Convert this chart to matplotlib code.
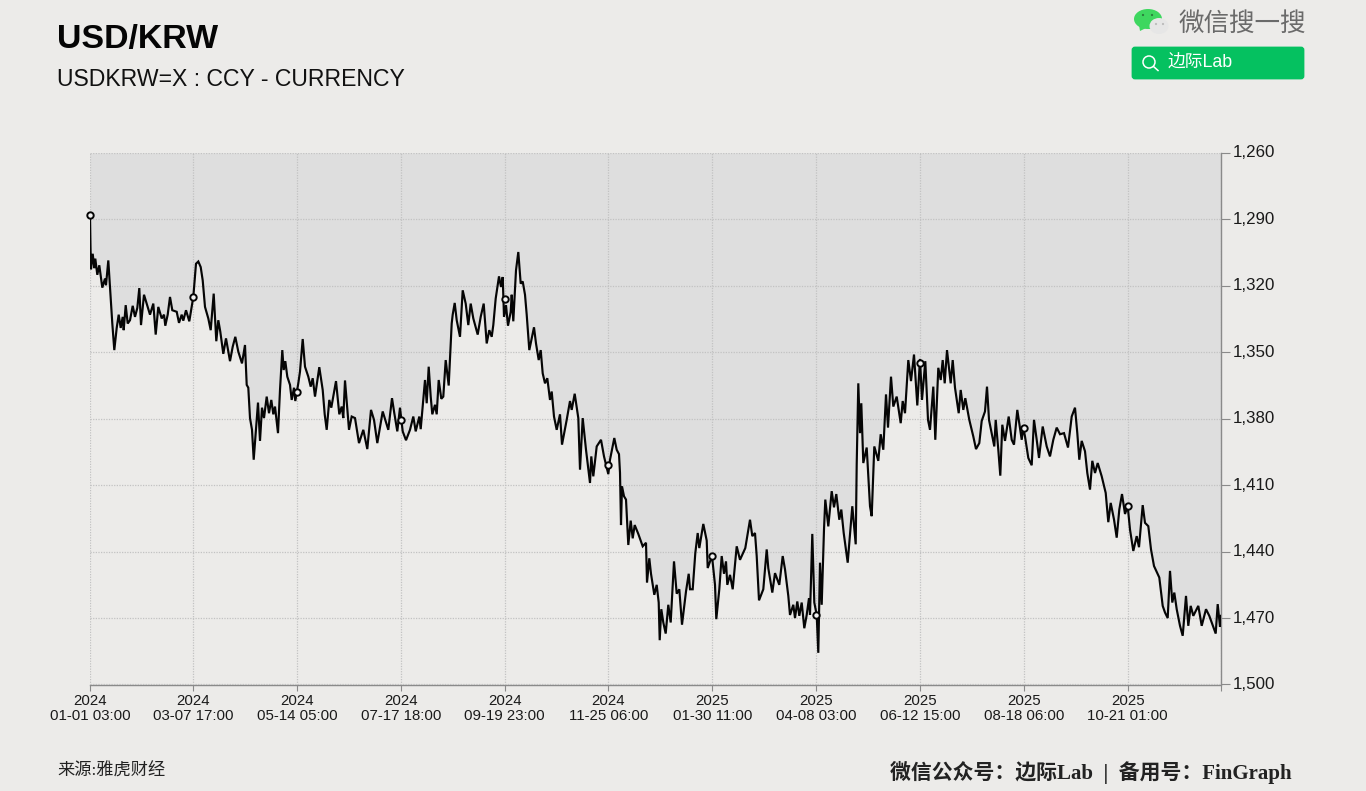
import matplotlib
matplotlib.use("Agg")
import matplotlib.pyplot as plt
from matplotlib.patches import Ellipse, FancyBboxPatch, Circle, Polygon

plt.rcParams['font.family'] = ['Liberation Sans', 'Noto Sans CJK SC', 'DejaVu Sans']

title = "USD/KRW"
subtitle = "USDKRW=X : CCY - CURRENCY"
source = "来源:雅虎财经"
credit = "微信公众号：边际Lab  |  备用号：FinGraph"

sessions = [0,0.5,1,2.7,4.3,5.3,7.3,9.3,12.3,15,16,18.3,20,22.3,24.3,26.7,28.7,30.7,32.7,33.7,35.7,37.7,40,42.7,45,47.3,49.3,51,54,56.7,60,63.3,65.7,68.3,71.7,74,75.3,77.7,80,82.3,86.7,89,91.7,93.3,96,99.3,103.3,106,108.3,110.7,112.7,115,118.3,120.7,123.7,126.3,128.3,130.3,133.3,136,140,142.7,145.3,148.3,152,155,156.7,158.3,160,162,163.7,165.7,168,170,172,174,176.7,179,181.3,183.3,185,188,190,192.3,193.7,195.3,197.3,200,201.7,204,205.3,208.3,
210,212.7,215,218.3,220.7,222.7,225,229.3,232.7,234.7,236.7,239.3,241.3,246,249.3,251.7,253.3,255,259,261.7,265,269,273.3,277.3,281,284,287.3,292.7,298.3,302,304.3,307.3,310,312.7,316,320,323.3,325.7,329.3,330.7,335,336.7,338.7,340.7,342.3,345,346.7,348.7,351.3,353.3,355.7,358.7,361.7,362.7,364.7,366.7,370,372.7,375.7,378.3,380.7,383.3,387.7,390.7,393.7,396.7,399.3,401.7,403.3,405.7,409,411,412.7,414,416,418,420.7,421.7,423.3,426,428.3,430.7,432.7,435,436.7,439.3,441.7,444,446,448.7,450.7,452.7,455,457.3,460,461.7,464,466.7,470,472,476.7,480,481.7,484.7,488.3,490,492.7,496,500,501.3,503.3,506.7,511,514,518.3,520,524.3,526.7,529,
530,531,532,534,536,538.3,540.7,542.7,544.7,548.3,552.7,556,557,559.3,561,564.3,566.7,568.7,569.7,571.3,573.3,575.7,578.3,580.7,584,586.7,589.3,592,596,598.7,600,602.7,605.3,607.7,609.3,613.3,616.7,617.7,622,625,626.3,629.3,631.7,634,636,637.3,640,642.7,646.7,650,655.3,660,662.3,665,666.7,669,673.3,676.7,678.3,682.3,685,689.3,692.7,695,698.3,700,703.3,705,707.3,709.3,711.7,714.3,716.7,719,720,722.3,724.3,726.7,728.3,730,731.7,734,735.3,738.3,741.7,744,746.3,749.3,751.3,753.7,757.7,
762.3,765.7,766.7,768.3,770,771.3,773.3,776.7,780,781.7,784.3,788.3,790.7,793.3,796,798,801,803.3,806.7,810.7,812.7,815,818.3,821,824,827.3,830,832,835.3,838,840,843.3,845.3,848.3,850.7,852.7,854.7,857,860.7,862.7,865,868.7,870.7,873.3,875.3,879.3,883.3,886,889.3,891.7,895,897,899,901.7,904.3,905.7,908.3,910.3,912.3,915,918.7,921.7,924,927.3,931.7,933.3,935,938.3,941.7,944,946.7,949,952.7,956.7,960,963.3,966.7,970,974,978,981.7,985,987.3,989.3,991.7,995,997.3,1000,1002.3,1005,1007.7,1011.7,1015.7,1018.3,1020.7,1024,1026.7,1029.3,1032,1035,1037.7,1040,1043.3,1046.7,1049,1052.7,1055,1058.3,1061,1064,1069.3,1072.7,1075,1077.7,1080,1082.3,1084.3,1086.7,1090,1092.7,1096,1098.3,1100.7,1103.3,1108.3,1111.7,1116,1119.3,1125.7,1127.7,1130,1131]

rates = [1288,1302.5,1312.5,1305.5,1312,1307.7,1315,1310.7,1320.8,1316.7,1319.7,1308.5,1320.5,1337,1349,1339,1333,1339,1334,1340,1328.7,1337,1335.5,1329,1334,1330,1321,1337.7,1324,1328,1333,1328,1342,1329.5,1334.7,1333,1338,1333,1325,1331,1331.7,1336.7,1333,1335.7,1331,1336,1325,1310,1309,1311.5,1317.5,1329.5,1334.7,1340,1323.5,1345,1335.5,1340.7,1350.7,1343.7,1354,1347.5,1343,1349.7,1355,1346.7,1364.7,1366,1379.7,1385,1398.5,1386.5,1372.7,1390,1375,1379.7,1370,1377.5,1371.5,1378,1374.5,1386.5,1367,1349,1358,1354,1361,1364.7,1371.5,1366,1372,1364,
1358.7,1344,1356.5,1361,1365.5,1361.7,1370,1356.7,1367,1378,1385,1371.5,1375,1363,1378,1374.5,1379.7,1362.7,1385,1379,1379.7,1391,1385,1393.7,1376,1380.5,1391,1376.7,1385,1370.7,1377.5,1385.7,1375,1385.7,1389.7,1385,1379,1385.7,1379,1384.7,1362.5,1373,1356.5,1370,1378,1373.7,1378,1362.5,1371,1370,1353.5,1365,1337,1333,1327.7,1335.5,1343,1322,1328,1337.7,1328,1334.7,1342,1334,1328,1346,1340,1343,1337.7,1325.7,1315.7,1320.5,1316,1334,1328.7,1338,1331.7,1324,1336,1313,1304.7,1319,1318,1324,1333,1349,1343.7,1338.7,1346,1353.5,1349,1359.5,1364,1361.7,1371.5,1367.7,1379,1385,1378,1391.7,1380.5,1372,1376,1368.7,1379.7,1403,1379.7,1394,1409,1397,1406,1392.5,1389.5,1397,1405,1398.5,1388.7,1394,1396,
1404.4,1428,1410.5,1415,1416.5,1437,1426,1434,1428,1432,1437.6,1436,1454,1443,1450,1459.5,1455,1463,1480,1466,1472,1477,1464,1472,1444.4,1459,1457,1473,1458,1450,1457,1457,1440.7,1431.6,1438.4,1427.5,1435,1447.4,1442,1455,1470.5,1457,1442,1450,1444.4,1455,1450.5,1457,1437.6,1443.7,1438.4,1425.6,1433,1431.6,1442,1462,1457,1439,1447.5,1458.5,1449.7,1455,1442,1448,1460,1468.6,1464,1470,1462.5,1469,1463,1474.6,1468.6,1461,1468.6,1432,1463,1468.6,1485.7,1445,1464,1430,1416.5,1428.6,1412.7,1420,1414,1425.6,1421,1431.6,1445,
1419.5,1436.7,1400.7,1364,1386.5,1373,1400,1393,1419.5,1424,1392.5,1399,1387,1394,1369,1384,1361,1374.5,1370,1382,1372,1377.5,1353.5,1363,1351,1374,1353,1371.5,1354,1380.5,1385,1365.5,1389.5,1357,1362.5,1353.5,1364,1349,1364,1353.5,1366,1377.5,1367,1376,1370.7,1380.5,1388,1393.7,1391,1381,1376.7,1365.5,1380.5,1386.5,1392.5,1380.5,1394,1405.7,1382.7,1390,1379,1389.5,1391.7,1376,1389.5,1384,1388,1397.7,1401,1380.5,1389.5,1397.7,1383.5,1392.5,1397,1389.5,1384,1387,1386.5,1393,1379,1375,1386.5,1398.5,1390,1394.7,1404.5,1412,1399,1404.5,1400,1406,1413.5,1426.7,1418,1425.5,1433.7,1421,1414,1423,1419.5,1430,1439.7,1433,1438,1419,1427,1428.5,1439,1446.5,1451.7,1464.5,1467.5,1470,1448.7,1463,1458.5,1466,1473.5,1478,1460,1473.5,1464.5,1469,1464.5,1473.5,1466,1469,1477,1463.7,1474,1469]

tick_sessions = [0,103.3,207,311,414.7,518.2,622.2,726.2,830,933.7,1037.6]
tick_rates = [1288,1325,1368,1380.5,1326,1400.7,1442,1468.5,1355,1384,1419.5]
tick_years = ["2024"]*6 + ["2025"]*5
tick_stamps = ["01-01 03:00","03-07 17:00","05-14 05:00","07-17 18:00","09-19 23:00","11-25 06:00",
               "01-30 11:00","04-08 03:00","06-12 15:00","08-18 06:00","10-21 01:00"]
y_levels = [1260,1290,1320,1350,1380,1410,1440,1470,1500]

W, H = 1366, 791
BG = "#ecebe9"
fig = plt.figure(figsize=(W/100, H/100), dpi=100, facecolor=BG)
L, R, T, B = 90, 1221, 153, 684.5
ax = fig.add_axes([L/W, 1-B/H, (R-L)/W, (B-T)/H], facecolor=BG)
ax.set_xlim(0, 1131)
ax.set_ylim(1500, 1260)

ax.fill_between(sessions, rates, 1260, color="#dedede", lw=0, zorder=1)
ax.grid(True, color="#c2c2c2", lw=0.9, ls=(0, (1, 1.1)), zorder=2)
ax.set_axisbelow(False)
ax.plot(sessions, rates, color="#050505", lw=1.55, zorder=3, solid_joinstyle="miter")
ax.plot(tick_sessions, tick_rates, ls="none", marker="o", ms=4.6, mfc="#f2f2f2", mec="#050505",
        mew=1.4, zorder=4, clip_on=False)

for s in ["top", "left"]:
    ax.spines[s].set_visible(False)
for s in ["right", "bottom"]:
    ax.spines[s].set_color("#8a8a8a")
    ax.spines[s].set_linewidth(1.0)
ax.yaxis.tick_right()
ax.set_yticks(y_levels)
ax.set_yticklabels([f"{v:,}" for v in y_levels], fontsize=12.2, color="#1a1a1a", va="center", y=0.002)
ax.set_xticks(tick_sessions + [1131])
ax.set_xticklabels([f"{y}\n{s}" for y, s in zip(tick_years, tick_stamps)] + [""],
                   fontsize=10.8, color="#1a1a1a", linespacing=1.08)
ax.tick_params(axis="y", length=6.5, width=0.8, color="#8a8a8a", pad=2)
ax.tick_params(axis="x", length=4, width=0.8, color="#8a8a8a", pad=3)

# page furniture in pixel coordinates
ov = fig.add_axes([0, 0, 1, 1], facecolor="none", zorder=5)
ov.set_xlim(0, W); ov.set_ylim(H, 0); ov.axis("off")
ov.text(57, 39.5, title, fontsize=24.4, fontweight="bold", color="#050505", va="center")
ov.text(57, 79, subtitle, fontsize=16.6, color="#111111", va="center")
ov.text(57, 772, source, fontsize=12.4, color="#222222", va="center",
        family=["Liberation Serif", "Noto Sans CJK SC"])
ov.text(1292, 772, credit, fontsize=15, fontweight="bold", color="#222222", va="center", ha="right",
        family=["Liberation Serif", "Noto Sans CJK SC"])

ov.add_patch(Ellipse((1148, 19), 28, 20, color="#3ed75f", lw=0))
ov.add_patch(Polygon([[1139, 25], [1140, 31], [1146, 28]], color="#3ed75f", lw=0))
ov.add_patch(Ellipse((1159, 26), 19, 16, color="#e6e6e6", lw=0))
for cx, cy, c in [(1143, 15, "#2a7a3c"), (1152, 15, "#2a7a3c"), (1156, 24, "#bbbbbb"), (1163, 24, "#bbbbbb")]:
    ov.add_patch(Circle((cx, cy), 1.1, color=c, lw=0))
ov.text(1179, 24, "微信搜一搜", fontsize=18.4, color="#6a6a6a", va="center", family="Noto Sans CJK SC")
ov.add_patch(FancyBboxPatch((1133, 48), 170, 30, boxstyle="round,pad=0,rounding_size=2",
                            fc="#05c160", ec="#05c160", lw=2))
ov.add_patch(Circle((1149, 62), 6, fc="none", ec="white", lw=1.1))
ov.plot([1153.5, 1158], [66.5, 70.5], color="white", lw=1.1)
ov.text(1168, 63.5, "边际Lab", fontsize=12.8, color="white", va="center",
        family=["Liberation Sans", "Noto Sans CJK SC"])

fig.savefig("out.png", dpi=100, facecolor=BG)
